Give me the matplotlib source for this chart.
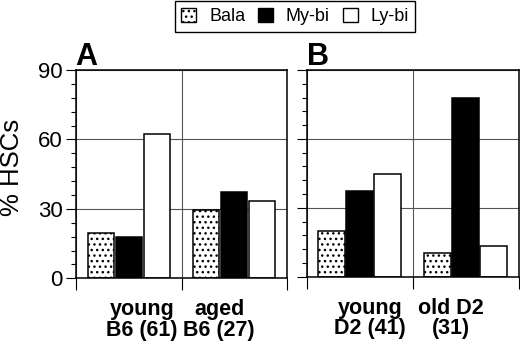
#!/usr/bin/env python3
"""Grouped bar chart: HSC subtypes in young vs aged B6 and D2 mice."""

import numpy as np
import matplotlib
matplotlib.use("Agg")
import matplotlib.pyplot as plt
from matplotlib.patches import Patch

# --- data ---
series = ["Bala", "My-bi", "Ly-bi"]

groups_a = ["young\nB6 (61)", "aged\nB6 (27)"]
bala_a = [19.7, 29.7]
mybi_a = [18.0, 37.2]
lybi_a = [62.4, 33.4]

groups_b = ["young\nD2 (41)", "old D2\n(31)"]
bala_b = [19.9, 10.2]
mybi_b = [37.2, 77.7]
lybi_b = [44.6, 13.5]

y_ticks = [0, 30, 60, 90]

plt.rcParams['font.family'] = ['Liberation Sans', 'DejaVu Sans']

# series styles: (facecolor, hatch)
styles = [("white", "..."), ("black", None), ("white", None)]


def draw_panel(ax, values, labels, label_x, show_ylabels):
    """Draw one panel of three bars per group."""
    n = len(values[0])
    x = np.arange(n)
    width = 0.25
    offsets = [-0.265, 0.0, 0.265]
    for vals, off, (fc, hatch) in zip(values, offsets, styles):
        ax.bar(x + off, vals, width, color=fc, edgecolor="black",
               hatch=hatch, linewidth=1.1, zorder=3)

    ax.set_xlim(-0.5, n - 0.5)
    ax.set_ylim(0, 90)

    # y axis
    ax.set_yticks(y_ticks)
    ax.set_yticks(np.arange(0, 91, 6), minor=True)
    if show_ylabels:
        ax.set_yticklabels([str(t) for t in y_ticks])
    else:
        ax.set_yticklabels([])
    ax.tick_params(axis="y", which="major", direction="out", length=7.5,
                   width=0.8, labelsize=16, pad=2)
    ax.tick_params(axis="y", which="minor", direction="out", length=3.5,
                   width=0.8)

    # x axis: boundary ticks + group labels on minor ticks
    ax.set_xticks(np.arange(-0.5, n, 1.0))
    ax.set_xticklabels([])
    ax.set_xticks(label_x, minor=True)
    ax.set_xticklabels(labels, minor=True, fontweight="bold", fontsize=15.5,
                       linespacing=0.98)
    ax.tick_params(axis="x", which="major", direction="out", length=8.5,
                   width=0.8)
    ax.tick_params(axis="x", which="minor", length=0, pad=15)

    ax.grid(True, which="major", color="#555555", linewidth=0.8, zorder=0)
    ax.set_axisbelow(True)
    for sp in ax.spines.values():
        sp.set_linewidth(1.1)
        sp.set_zorder(4)


fig = plt.figure(figsize=(5.2, 3.52), dpi=100)
W, H = 520.0, 352.0

ax_a = fig.add_axes([76 / W, 1 - 278.3 / H, 211 / W, 208.3 / H])
ax_b = fig.add_axes([306.5 / W, 1 - 276.7 / H, 212 / W, 206.7 / H])

draw_panel(ax_a, [bala_a, mybi_a, lybi_a], groups_a, [0.123, 0.858], True)
draw_panel(ax_b, [bala_b, mybi_b, lybi_b], groups_b, [0.102, 0.865], False)

# panel letters and y label
fig.text(75 / W, 1 - 65 / H, "A", fontsize=22, fontweight="bold",
         ha="left", va="baseline")
fig.text(307 / W, 1 - 65 / H, "B", fontsize=22, fontweight="bold",
         ha="left", va="baseline")
fig.text(12 / W, 1 - 167 / H, "% HSCs", fontsize=18.5, rotation=90,
         ha="center", va="center")

# legend
handles = [Patch(facecolor=fc, edgecolor="black", hatch=h, linewidth=1.0)
           for fc, h in styles]
leg = fig.legend(handles, series, loc="center", bbox_to_anchor=(295 / W, 1 - 16.5 / H),
                 ncol=3, fontsize=13, frameon=True, fancybox=False,
                 edgecolor="black", framealpha=1, handlelength=0.85,
                 handleheight=0.85, handletextpad=0.7, columnspacing=0.7,
                 borderpad=0.35, borderaxespad=0)
leg.get_frame().set_linewidth(1.0)

fig.savefig("out.png", dpi=100)
